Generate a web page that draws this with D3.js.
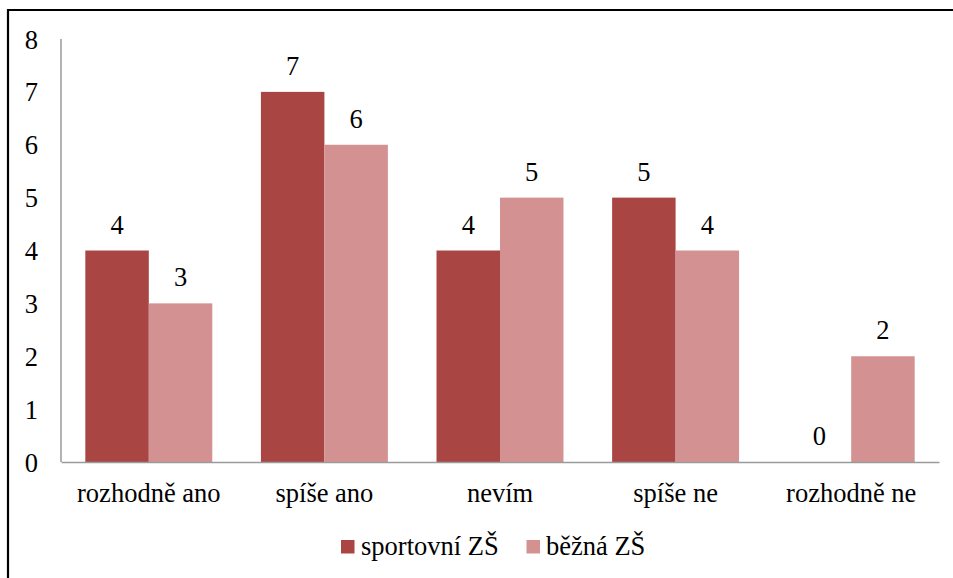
<!DOCTYPE html>
<html>
<head>
<meta charset="utf-8">
<script src="https://cdnjs.cloudflare.com/ajax/libs/d3/7.8.5/d3.min.js"></script>
<style>
  html, body { margin: 0; padding: 0; background: #fff; }
  svg { display: block; }
  svg text { font-family: "Times New Roman", "Liberation Serif", Tinos, "DejaVu Serif", serif; fill: #000; }
</style>
</head>
<body>
<svg id="chart" width="953" height="578"></svg>
<script>
const categories = ["rozhodně ano", "spíše ano", "nevím", "spíše ne", "rozhodně ne"];
const seriesNames = ["sportovní ZŠ", "běžná ZŠ"];
const sportovni = [4, 7, 4, 5, 0];
const bezna = [3, 6, 5, 4, 2];
const yTicks = [0, 1, 2, 3, 4, 5, 6, 7, 8];
const colors = ["#A94644", "#D39291"];

(function () {
const seriesValues = [sportovni, bezna];
const svg = d3.select("#chart");
const W = 953, H = 578;
const mLeft = 61, mRight = 939, mTop = 39, mBottom = 462;
const fontSize = 26.5;
const FF = '"Times New Roman", "Liberation Serif", Tinos, "DejaVu Serif", serif';

// frame (top and left lines)
svg.append("line").attr("x1", 8).attr("x2", W).attr("y1", 10).attr("y2", 10)
  .attr("stroke", "#000").attr("stroke-width", 2.2);
svg.append("line").attr("x1", 8).attr("x2", 8).attr("y1", 9).attr("y2", H)
  .attr("stroke", "#000").attr("stroke-width", 2.2);

const x0 = d3.scaleBand().domain(categories).range([mLeft, mRight])
  .paddingInner(0.277).paddingOuter(0.1385);
const x1 = d3.scaleBand().domain(seriesNames).range([0, x0.bandwidth()]);
const y = d3.scaleLinear().domain([0, 8]).range([mBottom, mTop]);

// y tick labels
const yAxis = d3.axisLeft(y).tickValues(yTicks).tickSize(0).tickPadding(0).tickFormat(d3.format("d"));
const gy = svg.append("g").attr("transform", `translate(38,0)`).call(yAxis)
  .attr("font-family", FF).attr("font-size", fontSize);
gy.select(".domain").remove();
gy.selectAll("text").attr("dy", "0.34em").attr("fill", "#000");

// bars
const groups = svg.append("g").selectAll("g").data(categories).join("g")
  .attr("transform", d => `translate(${x0(d)},0)`);
groups.each(function(cat, ci) {
  const g = d3.select(this);
  seriesNames.forEach((s, si) => {
    const v = seriesValues[si][ci];
    g.append("rect")
      .attr("x", x1(s)).attr("width", x1.bandwidth())
      .attr("y", y(v)).attr("height", y(0) - y(v))
      .attr("fill", colors[si]);
    g.append("text")
      .attr("x", x1(s) + x1.bandwidth() / 2)
      .attr("y", y(v) - 17)
      .attr("text-anchor", "middle")
      .attr("font-family", FF)
      .attr("font-size", fontSize)
      .text(v);
  });
});

// axes lines
svg.append("line").attr("x1", mLeft).attr("x2", mLeft).attr("y1", mTop).attr("y2", mBottom)
  .attr("stroke", "#9a9a9a").attr("stroke-width", 1.5);
const xAxis = d3.axisBottom(x0).tickSize(0).tickPadding(0);
const gx = svg.append("g").attr("transform", `translate(0,${mBottom})`).call(xAxis)
  .attr("font-family", FF).attr("font-size", fontSize);
gx.select(".domain").attr("stroke", "#9a9a9a").attr("stroke-width", 1.5);
gx.selectAll("text").attr("y", 39.5).attr("dy", 0).attr("fill", "#000");

// legend
const legendItems = [
  { name: seriesNames[0], color: colors[0], sx: 341, tx: 361 },
  { name: seriesNames[1], color: colors[1], sx: 526.5, tx: 546 }
];
const lg = svg.append("g").attr("font-family", FF).attr("font-size", fontSize);
legendItems.forEach(it => {
  lg.append("rect").attr("x", it.sx).attr("y", 540).attr("width", 13.5).attr("height", 13.5).attr("fill", it.color);
  lg.append("text").attr("x", it.tx).attr("y", 555).text(it.name);
});
})();
</script>
</body>
</html>
